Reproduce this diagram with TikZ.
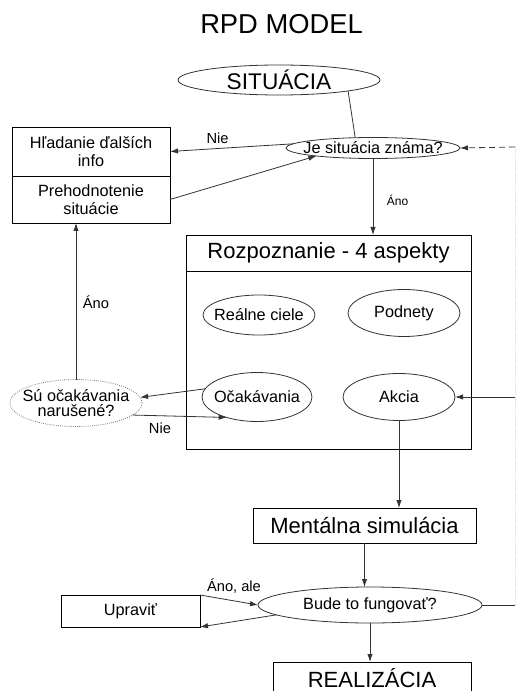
\documentclass[tikz,border=0pt]{standalone}
\usepackage{fontspec}
\setmainfont{Liberation Sans}
\usetikzlibrary{shapes.geometric,arrows.meta}

\begin{document}
\begin{tikzpicture}[x=0.75pt, y=-0.75pt, line width=0.6pt, draw=black!80,
    every node/.style={inner sep=0pt, outer sep=0pt, align=center, font=\fontsize{12.2}{13.5}\selectfont},
    every label/.style={align=center, font=\fontsize{12.2}{11.5}\selectfont},
    box/.style={draw=black, rectangle},
    oval/.style={draw=black!80, ellipse},
    big/.style={font=\fontsize{16.5}{19}\selectfont},
    lbl/.style={font=\fontsize{11}{12}\selectfont},
    arr/.style={-{Latex[length=6pt,width=4pt]}}]
    \useasboundingbox (0,0) rectangle (516,691);
    % title
    \node[font=\fontsize{20.5}{24}\selectfont] (title) at (281.5,24) {RPD MODEL};
    % top part
    \node[oval, minimum width=151.5pt, minimum height=22.5pt, label={[font=\fontsize{17}{20}\selectfont]center:SITUÁCIA}] (sit) at (279,80) {};
    \node[oval, minimum width=130.5pt, minimum height=15.75pt, label=center:Je situácia známa?] (je) at (373,148) {};
    \node[box, minimum width=118.5pt, minimum height=36.75pt] (hladanie) at (91,151.5) {Hľadanie ďalších\\info};
    \node[box, minimum width=118.5pt, minimum height=35.25pt] (prehodn) at (91,199.5) {Prehodnotenie\\situácie};
    \coordinate (eje) at (515,147);
    % recognition
    \node[box, big, minimum width=213.75pt, minimum height=27pt] (rtitle) at (328.5,253) {Rozpoznanie - 4 aspekty};
    \node[box, minimum width=213.75pt, minimum height=133.5pt] (rbody) at (328.5,360) {};
    \node[oval, minimum width=84pt, minimum height=30pt, label=center:Reálne ciele] (realne) at (259,315) {};
    \node[oval, minimum width=84pt, minimum height=35.25pt, label=center:Podnety] (podnety) at (404,313) {};
    \node[oval, minimum width=82.5pt, minimum height=36.75pt, label=center:Očakávania] (ocak) at (257,397) {};
    \node[oval, minimum width=84pt, minimum height=35.25pt, label=center:Akcia] (akcia) at (399,397) {};
    \node[oval, draw=black!55, densely dotted, minimum width=99pt, minimum height=35.25pt, label=center:Sú očakávania\\narušené?] (su) at (76,403) {};
    \coordinate (eak) at (515,397);
    % simulation
    \node[box, big, minimum width=167.25pt, minimum height=26.25pt] (ment) at (364.5,525.5) {Mentálna simulácia};
    \node[oval, minimum width=168pt, minimum height=27pt, label=center:Bude to fungovať?] (bude) at (370,605) {};
    \node[box, minimum width=104.25pt, minimum height=24pt] (upravit) at (130.5,611) {Upraviť};
    \node[box, big, minimum width=148.5pt, text height=18.75pt, text depth=15pt, anchor=base] (real) at (372,687) {REALIZÁCIA};
    \coordinate (ebu) at (515,605);
    % labels
    \node[lbl] (nie1) at (217.5,138) {Nie};
    \node[lbl, font=\fontsize{9}{10}\selectfont] (ano1) at (397.5,200) {Áno};
    \node[lbl] (ano2) at (96,302) {Áno};
    \node[lbl] (nie2) at (160,428) {Nie};
    \node[lbl] (anoale) at (234,586) {Áno, ale};
    % connectors
    \draw (sit.-9) -- (je.150);
    \draw[arr] (je.177) -- (hladanie.east);
    \draw[arr] (prehodn.east) -- (je.188);
    \draw[arr] (je.south) -- (je.south |- rtitle.north);
    \draw[arr, dash pattern=on 4.5pt off 3pt] (eje) -- (je.east);
    \draw[arr] (ocak.171) -- (su.5);
    \draw[arr] (su.-12) -- (ocak.214);
    \draw[arr] (su.north) -- (su.north |- prehodn.south);
    \draw[arr] (eak) -- (akcia.east);
    \draw[arr] (akcia.south) -- (akcia.south |- ment.north);
    \draw[arr] (ment.south) -- (ment.south |- bude.north);
    \draw (bude.east) -- (ebu);
    \draw[arr] (upravit.north east) -- (bude.west);
    \draw[arr] (bude.186) -- (upravit.south east);
    \draw[arr] (bude.south) -- (bude.south |- real.north);
    \draw[black!15, densely dotted] (eje) -- (ebu);
\end{tikzpicture}
\end{document}
